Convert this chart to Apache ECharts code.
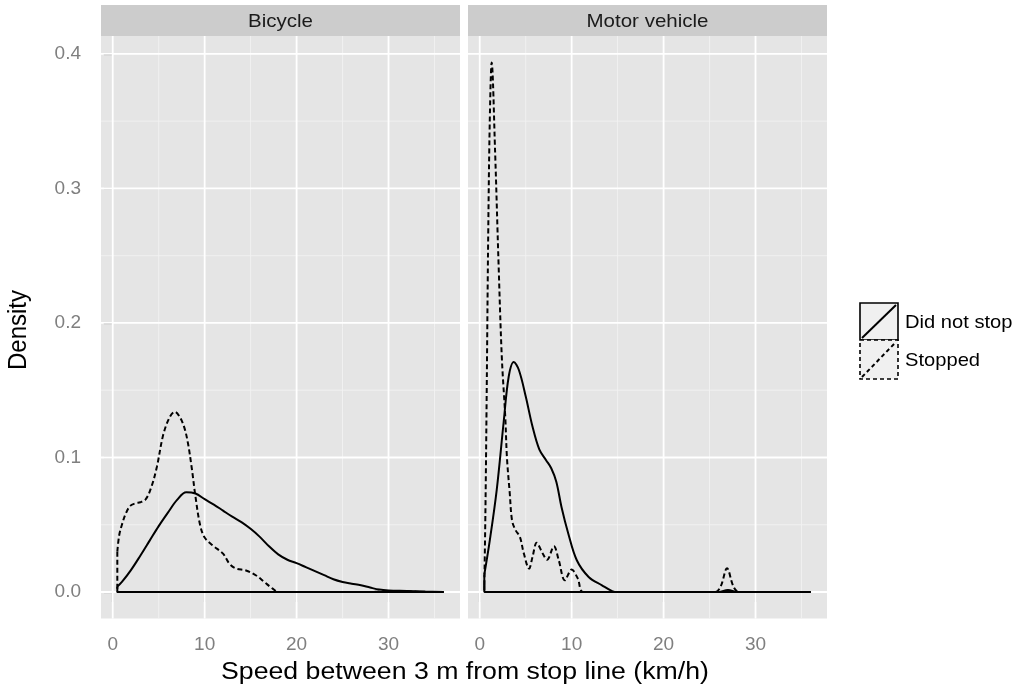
<!DOCTYPE html>
<html>
<head>
<meta charset="utf-8">
<script src="https://cdn.jsdelivr.net/npm/echarts@6/dist/echarts.min.js"></script>
<style>
html,body{margin:0;padding:0;background:#ffffff;}
#c{width:1022px;height:691px;}
</style>
</head>
<body>
<div id="c"></div>
<script>
// ---------- data ----------
const panels = ['Bicycle', 'Motor vehicle'];
const seriesNames = ['Did not stop', 'Stopped'];
const xTicks = [0, 10, 20, 30];
const xMinorTicks = [5, 15, 25, 35];
const yTicks = [0, 0.1, 0.2, 0.3, 0.4];
const yMinorTicks = [0.05, 0.15, 0.25, 0.35];
const dataXMin = 0.5;
const dataXMax = 36;
const densityMax = 0.3936;
const xTitle = 'Speed between 3 m from stop line (km/h)';
const yTitle = 'Density';

// [speed km/h, density]
const bicycleDidNotStop = [[0.5,0.004],[1,0.0075],[2,0.0165],[3,0.027],[4,0.038],[5,0.049],[6,0.059],[7,0.0685],[8,0.0742],[9,0.0732],[10,0.069],[11,0.065],[12,0.0605],[13,0.056],[14,0.052],[15,0.047],[16,0.041],[17,0.034],[18,0.028],[19,0.024],[20,0.0215],[21,0.0185],[22,0.0155],[23,0.0125],[24,0.0095],[25,0.0075],[26,0.0062],[27,0.005],[28,0.0033],[29,0.0018],[30,0.0012],[32,0.0008],[34,0.0003],[36,0]];
const bicycleStopped = [[0.5,0.03],[0.7,0.042],[1.0,0.05],[1.4,0.058],[1.9,0.064],[2.5,0.066],[3.0,0.0667],[3.6,0.069],[4.2,0.078],[4.8,0.093],[5.5,0.117],[6.2,0.13],[6.75,0.134],[7.3,0.13],[7.8,0.122],[8.2,0.11],[8.6,0.092],[9.0,0.071],[9.5,0.05],[10,0.0405],[10.9,0.0345],[12,0.0285],[12.7,0.021],[13.4,0.0175],[14.5,0.016],[15.6,0.0123],[16.5,0.0074],[17.4,0.0025],[18.1,0],[28,0],[30,0.0008],[32,0.0006],[34,0],[36,0]];
const motorDidNotStop = [[0.5,0.013],[1.1,0.0386],[1.85,0.076],[2.6,0.126],[3.15,0.16],[3.7,0.171],[4.26,0.165],[5.0,0.1455],[5.74,0.123],[6.48,0.106],[7.22,0.098],[7.78,0.092],[8.33,0.082],[8.9,0.063],[9.63,0.0435],[10.56,0.0236],[11.85,0.0112],[13.3,0.005],[14.4,0.0007],[15,0],[26,0],[27,0.0015],[28,0],[36,0]];
const motorStopped = [[0.5,0.005],[0.62,0.06],[0.74,0.135],[0.93,0.27],[1.11,0.356],[1.3,0.3936],[1.67,0.328],[2.04,0.246],[2.4,0.175],[2.78,0.13],[2.96,0.1],[3.26,0.074],[3.52,0.053],[3.9,0.046],[4.37,0.041],[4.8,0.0286],[5.37,0.0174],[5.74,0.026],[6.2,0.0366],[6.85,0.0286],[7.33,0.024],[8.07,0.034],[8.6,0.0236],[9.26,0.0087],[10.0,0.0167],[10.67,0.01],[11.3,0],[25.6,0],[26.2,0.004],[26.9,0.0176],[27.6,0.004],[28.2,0],[36,0]];

// ---------- layout / style ----------
const FONT = 'Liberation Sans';
const panelCurves = [[bicycleDidNotStop, bicycleStopped], [motorDidNotStop, motorStopped]];
const lineTypes = ['solid', [5, 3]];
const expand = 0.05;
const xMin = dataXMin - expand * (dataXMax - dataXMin);
const xMax = dataXMax + expand * (dataXMax - dataXMin);
const yMin = -expand * densityMax;
const yMax = densityMax * (1 + expand);
const gridLeft = [101, 468];
const gridTop = 36, gridWidth = 359, gridHeight = 582.5;

const grids = panels.map((p, i) => ({
  left: gridLeft[i], top: gridTop, width: gridWidth, height: gridHeight,
  show: true, backgroundColor: '#e5e5e5', borderWidth: 0, containLabel: false
}));

const xAxes = panels.map((p, i) => ({
  type: 'value', gridIndex: i, min: xMin, max: xMax,
  axisLine: { show: false },
  splitLine: { show: false },
  axisTick: { show: true, customValues: xTicks, length: 10, lineStyle: { color: '#7f7f7f', width: 1.2 } },
  axisLabel: { show: true, customValues: xTicks, color: '#7f7f7f', fontSize: 19, fontFamily: FONT, margin: 17,
               formatter: v => String(v) }
}));

const yAxes = panels.map((p, i) => ({
  type: 'value', gridIndex: i, min: yMin, max: yMax,
  axisLine: { show: false },
  splitLine: { show: false },
  axisTick: { show: i === 0, customValues: yTicks, length: 9, lineStyle: { color: '#7f7f7f', width: 1.2 } },
  axisLabel: { show: i === 0, customValues: yTicks, color: '#7f7f7f', fontSize: 19, fontFamily: FONT, margin: 20,
               formatter: v => v.toFixed(1) }
}));

const series = [];
function gridSeries(i, pts, width, color) {
  return { type: 'line', xAxisIndex: i, yAxisIndex: i, data: pts, silent: true, z: 1,
           animation: false, showSymbol: false, symbol: 'none', clip: true,
           lineStyle: { color: color, width: width, type: 'solid' } };
}
panels.forEach((p, i) => {
  // panel grid lines (minor then major), below the curves
  yMinorTicks.forEach(v => series.push(gridSeries(i, [[xMin, v], [xMax, v]], 0.9, '#f2f2f2')));
  xMinorTicks.forEach(v => series.push(gridSeries(i, [[v, yMin], [v, yMax]], 0.9, '#f2f2f2')));
  yTicks.forEach(v => series.push(gridSeries(i, [[xMin, v], [xMax, v]], 1.8, '#ffffff')));
  xTicks.forEach(v => series.push(gridSeries(i, [[v, yMin], [v, yMax]], 1.8, '#ffffff')));

  seriesNames.forEach((name, j) => {
    const pts = panelCurves[i][j];
    const style = { color: '#000000', width: 2, type: lineTypes[j] };
    series.push({
      name: name, type: 'line', xAxisIndex: i, yAxisIndex: i, data: pts,
      smooth: 0.35, showSymbol: false, symbol: 'none', silent: true, animation: false,
      lineStyle: Object.assign({}, style), z: 3
    });
    // polygon outline: vertical edge at first point and baseline
    const first = pts[0], last = pts[pts.length - 1];
    series.push({
      name: name, type: 'line', xAxisIndex: i, yAxisIndex: i,
      data: [[first[0], first[1]], [first[0], 0], [last[0], 0]],
      smooth: false, showSymbol: false, symbol: 'none', silent: true, animation: false,
      lineStyle: Object.assign({}, style), z: 3
    });
  });
});

// strips, titles, legend
const graphic = [];
panels.forEach((p, i) => {
  graphic.push({ type: 'rect', shape: { x: gridLeft[i], y: 5, width: gridWidth, height: 31 }, style: { fill: '#cccccc' }, silent: true });
  graphic.push({ type: 'text', x: gridLeft[i] + gridWidth / 2, y: 21.5, scaleX: 1.08,
    style: { text: p, x: 0, y: 0, align: 'center', verticalAlign: 'middle', font: '19px "' + FONT + '"', fill: '#1a1a1a' }, silent: true });
});
graphic.push({ type: 'text', x: 465, y: 673, scaleX: 1.16,
  style: { text: xTitle, x: 0, y: 0, align: 'center', verticalAlign: 'middle', font: '23px "' + FONT + '"', fill: '#000000' }, silent: true });
graphic.push({ type: 'text', x: 19, y: 330, rotation: Math.PI / 2, scaleY: 1.1,
  style: { text: yTitle, x: 0, y: 0, align: 'center', verticalAlign: 'middle', font: '24px "' + FONT + '"', fill: '#000000' }, silent: true });

// legend keys
const keyX = 860, keyW = 38;
const keyTops = [303, 340], keyH = [37, 39];
seriesNames.forEach((name, j) => {
  const dash = j === 0 ? null : [4, 3];
  graphic.push({ type: 'rect', shape: { x: keyX, y: keyTops[j], width: keyW, height: keyH[j] },
    style: { fill: '#f0f0f0', stroke: '#000000', lineWidth: 1.6, lineDash: dash }, silent: true });
  graphic.push({ type: 'line', shape: { x1: keyX + 2, y1: keyTops[j] + keyH[j] - 2, x2: keyX + keyW - 2, y2: keyTops[j] + 2 },
    style: { stroke: '#000000', lineWidth: 2, lineDash: dash }, silent: true });
  graphic.push({ type: 'text', x: 905, y: keyTops[j] + keyH[j] / 2 + 1, scaleX: 1.06,
    style: { text: name, x: 0, y: 0, align: 'left', verticalAlign: 'middle', font: '19px "' + FONT + '"', fill: '#000000' }, silent: true });
});

const chart = echarts.init(document.getElementById('c'), null, { renderer: 'canvas' });
chart.setOption({
  animation: false,
  backgroundColor: '#ffffff',
  textStyle: { fontFamily: FONT },
  grid: grids,
  xAxis: xAxes,
  yAxis: yAxes,
  series: series,
  graphic: graphic
});
</script>
</body>
</html>
